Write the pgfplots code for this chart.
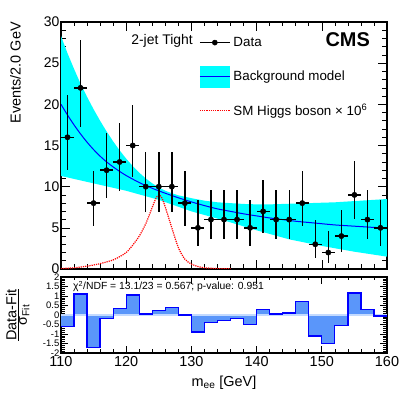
\documentclass[border=0pt]{standalone}
\usepackage{fontspec}
\setmainfont{Liberation Sans}
\usepackage{pgfplots}
\usepackage{pgfplotstable}
\pgfplotsset{compat=1.18}

\definecolor{bandcyan}{RGB}{0,255,255}
\definecolor{pullfill}{RGB}{90,150,250}
\definecolor{zeroline}{RGB}{195,218,255}

% data: bin centre, events, x half width, Poisson errors up/down
\pgfplotstableread{
x   y   ex  eyp   eym
111 16  1   5.09  3.98
113 22  1   5.80  4.70
115 8   1   3.95  2.77
117 12  1   4.57  3.42
119 13  1   4.71  3.57
121 15  1   4.97  3.85
123 10  1   4.27  3.11
125 10  1   4.27  3.11
127 10  1   4.27  3.11
129 8   1   3.95  2.77
131 5   1   3.38  2.16
133 6   1   3.58  2.38
135 6   1   3.58  2.38
137 6   1   3.58  2.38
139 5   1   3.38  2.16
141 7   1   3.77  2.58
143 6   1   3.58  2.38
145 6   1   3.58  2.38
147 8   1   3.95  2.77
149 3   1   2.92  1.63
151 2   1   2.64  1.29
153 4   1   3.16  1.91
155 9   1   4.11  2.94
157 6   1   3.58  2.38
159 5   1   3.38  2.16
}\datatable

\pgfplotsset{
  cmsaxis/.style={
    scale only axis, width=326bp,
    xmin=110, xmax=160,
    tick align=inside,
    major tick length=9bp, minor tick length=4.5bp,
    every tick/.style={black, line width=0.6bp},
    axis line style={line width=1.1bp},
    /pgf/number format/assume math mode=true,
  }
}

\begin{document}
\begin{tikzpicture}
\begin{axis}[cmsaxis,
  name=main,
  at={(61bp,124bp)}, anchor=south west,
  height=247bp,
  ymin=0, ymax=30,
  xtick={110,120,...,160}, xticklabels={},
  minor x tick num=4,
  ytick={0,5,...,30}, minor y tick num=4,
  yticklabel style={font=\fontsize{14}{14}\selectfont, inner xsep=1.5bp},
  ylabel={Events/2.0 GeV},
  ylabel style={font=\fontsize{14.5}{14.5}\selectfont, at={(axis description cs:-0.124,1)}, anchor=base east, inner sep=0pt},
  legend cell align=left,
  legend style={draw=none, fill=none, at={(rel axis cs:0.4233,0.962)}, anchor=north west,
    font=\fontsize{13.4}{13.4}\selectfont, row sep=12bp, inner sep=0pt,
    nodes={inner xsep=3bp, inner ysep=0bp}},
]
  % background model band
  \addplot[fill=bandcyan, draw=none, forget plot] coordinates {
    (110,28.3) (111,26.2) (112,24.3) (113,22.5) (114,20.9) (115,19.4) (116,18.0)
    (117,16.7) (118,15.5) (119,14.4) (120,13.4) (121,12.5) (122,11.7) (123,11.0)
    (124,10.4) (125,9.9) (126,9.5) (127,9.2) (128,8.95) (130,8.6) (132,8.3)
    (134,8.1) (136,8.0) (138,7.9) (140,7.85) (142,7.85) (144,7.9) (146,7.95)
    (148,8.0) (150,8.05) (152,8.1) (154,8.2) (156,8.3) (158,8.4) (160,8.5)
    (160,1.5) (155,2.1) (150,2.8) (145,3.6) (140,4.7) (135,5.9) (130,7.0)
    (125,8.4) (120,9.5) (115,10.4) (110,11.3)
  } -- cycle;
  % background fit
  \addplot[blue, line width=1bp, smooth, forget plot] coordinates {
    (110,20.0) (111,18.7) (112,17.5) (113,16.4) (114,15.4) (115,14.5) (116,13.7)
    (117,13.0) (118,12.4) (119,11.85) (120,11.35) (122,10.5) (124,9.8) (126,9.2)
    (128,8.65) (130,8.15) (132,7.7) (134,7.3) (136,7.0) (138,6.7) (140,6.45)
    (142,6.2) (144,6.0) (146,5.8) (148,5.65) (150,5.5) (152,5.35) (154,5.25)
    (156,5.15) (158,5.05) (160,5.0)
  };
  % SM Higgs x 10^6
  \addplot[red, densely dotted, line width=1.2bp, smooth, forget plot] coordinates {
    (110,0.05) (112,0.15) (114,0.35) (116,0.65) (118,1.1) (119,1.5) (120,2.0)
    (121,2.9) (122,4.0) (123,5.5) (124,7.5) (124.5,8.5) (125,9.0) (125.5,8.6)
    (126,7.5) (127,5.0) (128,2.6) (129,1.2) (130,0.6) (131,0.3) (132,0.15)
    (134,0.05) (136,0.02)
  };
  % data
  \addplot[black, only marks, mark=*, mark size=2.7bp, forget plot,
    error bars/.cd, x dir=both, x explicit, y dir=both, y explicit,
    error mark=none, error bar style={line width=1.4bp, black}]
    table[x=x, y=y, x error=ex, y error plus=eyp, y error minus=eym] {\datatable};

  \addlegendimage{legend image code/.code={
    \path[draw=none, fill=none] (0bp,-11bp) rectangle (30bp,11bp);
    \draw[black, solid, line width=1.3bp] (0bp,0bp) -- (30bp,0bp);
    \fill[black] (15bp,0bp) circle (2.6bp);}}
  \addlegendentry{Data}
  \addlegendimage{legend image code/.code={
    \fill[bandcyan, draw=none] (0bp,-11bp) rectangle (30bp,11bp);
    \draw[blue, solid, line width=1bp] (0bp,0bp) -- (30bp,0bp);}}
  \addlegendentry{Background model}
  \addlegendimage{legend image code/.code={
    \path[draw=none, fill=none] (0bp,-11bp) rectangle (30bp,11bp);
    \draw[red, densely dotted, line width=1.2bp] (0bp,0bp) -- (30bp,0bp);}}
  \addlegendentry{SM Higgs boson × 10\textsuperscript{6}}

  \node[anchor=base east, inner sep=0pt, font=\fontsize{14}{14}\selectfont]
    at (rel axis cs:0.405,0.907) {2-jet Tight};
  \node[anchor=base east, inner sep=0pt, font=\fontsize{20}{20}\selectfont\bfseries]
    at (rel axis cs:0.948,0.901) {CMS};
  \node[anchor=base west, inner sep=0pt, font=\fontsize{14}{14}\selectfont]
    at (rel axis cs:0,1.021) {H → e\textsuperscript{+}e\textsuperscript{-}};
  \node[anchor=base east, inner sep=0pt, font=\fontsize{14}{14}\selectfont]
    at (rel axis cs:1,1.021) {19.7 fb\textsuperscript{-1} (8 TeV)};
\end{axis}

\begin{axis}[cmsaxis,
  name=ratio,
  at={(61bp,40bp)}, anchor=south west,
  height=76bp,
  ymin=-2, ymax=2,
  xtick={110,120,...,160}, minor x tick num=4,
  ytick={-2,-1.5,...,2}, minor y tick num=4,
  major tick length=7bp, minor tick length=3.5bp,
  xticklabel style={font=\fontsize{14.5}{14.5}\selectfont},
  yticklabel style={font=\fontsize{9.5}{9.5}\selectfont, inner xsep=1.5bp},
  xlabel={m\textsubscript{ee} [GeV]},
  xlabel style={font=\fontsize{14.5}{14.5}\selectfont, at={(axis description cs:0.5,-0.443)}, anchor=base, inner sep=0pt},
  ylabel={$\frac{\mbox{Data-Fit}}{\mbox{σ\textsubscript{Fit}}}$},
  ylabel style={font=\fontsize{14.5}{14.5}\selectfont, at={(axis description cs:-0.133,0.5)}, anchor=center, inner sep=0pt},
]
  \addplot[fill=pullfill, draw=none, const plot, forget plot] coordinates {
    (110,0) (110,-0.6) (112,1.1) (114,-1.7) (116,-0.2) (118,0.35) (120,1.05)
    (122,0.05) (124,0.25) (126,0.4) (128,0.0) (130,-0.9) (132,-0.4) (134,-0.3)
    (136,-0.2) (138,-0.5) (140,0.3) (142,0.05) (144,0.1) (146,0.7) (148,-1.1)
    (150,-1.5) (152,-0.55) (154,1.15) (156,0.3) (158,-0.05) (160,-0.05) (160,0)
  } -- cycle;
  \addplot[zeroline, line width=1.3bp, forget plot] coordinates {(110,0) (160,0)};
  \addplot[blue, line width=1.3bp, const plot, forget plot] coordinates {
    (110,-0.6) (112,1.1) (114,-1.7) (116,-0.2) (118,0.35) (120,1.05)
    (122,0.05) (124,0.25) (126,0.4) (128,0.0) (130,-0.9) (132,-0.4) (134,-0.3)
    (136,-0.2) (138,-0.5) (140,0.3) (142,0.05) (144,0.1) (146,0.7) (148,-1.1)
    (150,-1.5) (152,-0.55) (154,1.15) (156,0.3) (158,-0.05) (160,-0.05)
  };
  \node[anchor=base west, inner sep=0pt, font=\fontsize{10.4}{10.4}\selectfont]
    at (rel axis cs:0.0368,0.829) {χ\textsuperscript{2}/NDF = 13.1/23 = 0.567; p-value: 0.951};
\end{axis}

\pgfresetboundingbox
\path[use as bounding box] (0,0) rectangle (407bp,393bp);
\end{tikzpicture}
\end{document}
